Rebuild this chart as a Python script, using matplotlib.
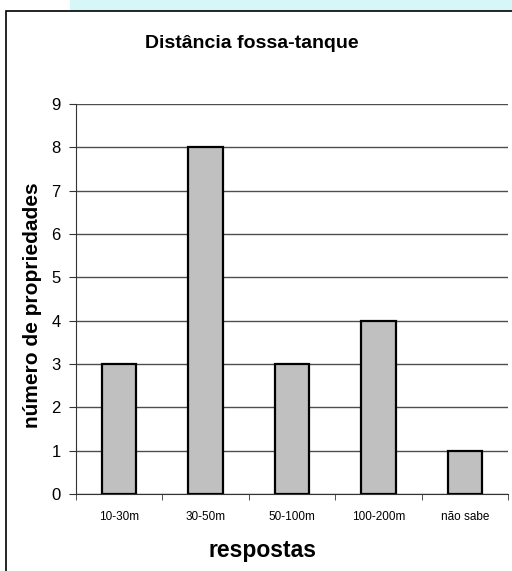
import matplotlib
matplotlib.use("Agg")
import matplotlib.pyplot as plt
from matplotlib.patches import Rectangle

plt.rcParams['font.family'] = ['Liberation Sans', 'DejaVu Sans']

categorias = ['10-30m', '30-50m', '50-100m', '100-200m', 'não sabe']
propriedades = [3, 8, 3, 4, 1]
yticks = list(range(0, 10))

fig = plt.figure(figsize=(5.12, 5.71), dpi=100)

# faixa ciano no topo e moldura do grafico
fig.patches.append(Rectangle((70 / 512, 1 - 10 / 571), 442 / 512, 10 / 571,
                             transform=fig.transFigure, color='#d6f6f8',
                             zorder=0))
fig.patches.append(Rectangle((6 / 512, -0.1), 1.2, 1 - 11 / 571 + 0.1,
                             transform=fig.transFigure, fill=False,
                             edgecolor='black', linewidth=1.2, zorder=1))

ax = fig.add_axes([76 / 512, 1 - 494 / 571, 432 / 512, 390 / 571])
x = range(len(categorias))
ax.bar(x, propriedades, width=0.4, color='#c0c0c0', edgecolor='black',
       linewidth=1.6, zorder=3)

ax.set_xlim(-0.5, len(categorias) - 0.5)
ax.set_ylim(0, 9)
ax.set_yticks(yticks)
ax.yaxis.grid(True, color='#4d4d4d', linewidth=1.0, zorder=0)
ax.set_axisbelow(True)

ax.set_xticks(list(x))
ax.set_xticklabels(categorias, fontsize=8.5)
ax.set_xticks([i - 0.5 for i in range(len(categorias) + 1)], minor=True)
ax.tick_params(axis='x', which='major', length=0, pad=12)
ax.tick_params(axis='x', which='minor', length=4, direction='out',
               color='#333333')
ax.tick_params(axis='y', labelsize=12, length=5, direction='out', pad=6,
               color='#333333')

for s in ['top', 'right']:
    ax.spines[s].set_visible(False)
ax.spines['left'].set_color('#333333')
ax.spines['bottom'].set_color('#333333')

fig.text(0.492, 1 - 43 / 571, 'Distância fossa-tanque', ha='center',
         va='center', fontsize=14, fontweight='bold')
fig.text(0.512, 1 - 550 / 571, 'respostas', ha='center', va='center',
         fontsize=16.5, fontweight='bold')
fig.text(33 / 512, 1 - 305 / 571, 'número de propriedades', ha='center',
         va='center', rotation=90, fontsize=15, fontweight='bold')

fig.savefig('out.png', dpi=100)
